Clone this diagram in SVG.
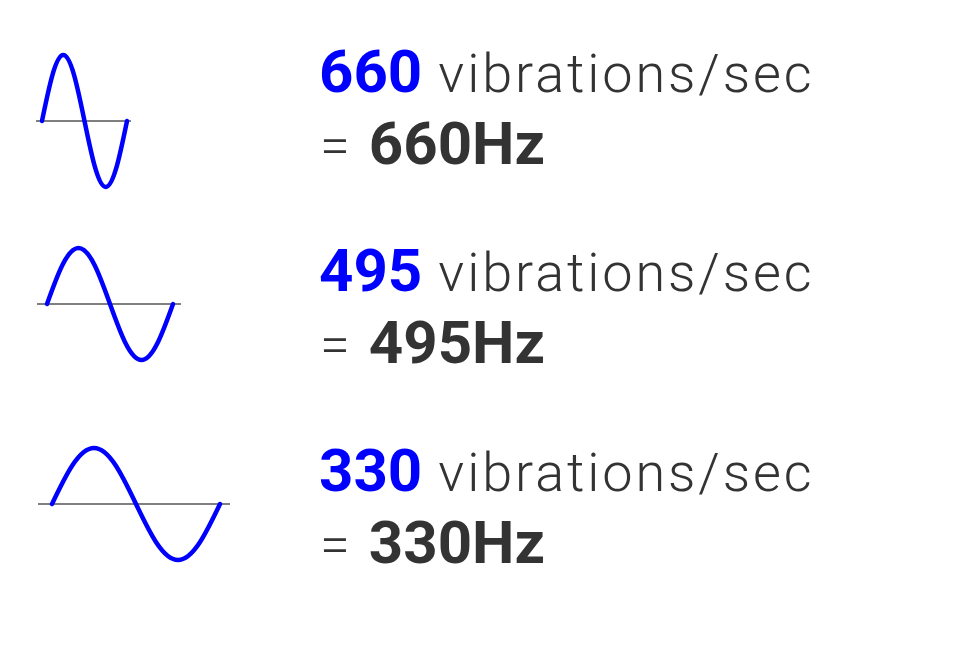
<svg xmlns="http://www.w3.org/2000/svg" width="978" height="645" viewBox="0 0 978 645">
<style>
.axis{stroke:#555;stroke-width:1.5;fill:none}
.wave{stroke:#0000ff;stroke-width:4.5;fill:none;stroke-linecap:round}
.t{font-family:Roboto,"Liberation Sans",sans-serif;fill:#333}
.lt{font-weight:300;font-size:54px;letter-spacing:2.9px}
.b{font-weight:700;font-size:60px}
.blue{fill:#0000ff}
</style>
<rect width="978" height="645" fill="#fff"/>
<g id="wave660">
<line class="axis" x1="36" y1="121" x2="131" y2="121"/>
<path class="wave" d="M42,121 C48.93,87.19 55.56,55 63.25,55 C70.94,55 77.57,87.19 84.5,121 C91.43,154.81 98.06,187 105.75,187 C113.44,187 120.07,154.81 127,121"/>
</g>
<g id="label660">
<text class="t" x="319" y="92"><tspan class="b blue">660</tspan><tspan class="lt"> vibrations/sec</tspan></text>
<text class="t" x="320" y="164"><tspan class="lt">= </tspan><tspan class="b">660Hz</tspan></text>
</g>
<g id="wave495">
<line class="axis" x1="37" y1="304" x2="181" y2="304"/>
<path class="wave" d="M47,304 C57.27,275.31 67.10,248 78.5,248 C89.9,248 99.73,275.31 110,304 C120.27,332.69 130.10,360 141.5,360 C152.9,360 162.73,332.69 173,304"/>
</g>
<g id="label495">
<text class="t" x="319" y="291"><tspan class="b blue">495</tspan><tspan class="lt"> vibrations/sec</tspan></text>
<text class="t" x="320" y="363"><tspan class="lt">= </tspan><tspan class="b">495Hz</tspan></text>
</g>
<g id="wave330">
<line class="axis" x1="38" y1="504" x2="230" y2="504"/>
<path class="wave" d="M52,504 C65.70,475.31 78.80,448 94,448 C109.2,448 122.3,475.31 136,504 C149.7,532.69 162.8,560 178,560 C193.2,560 206.3,532.69 220,504"/>
</g>
<g id="label330">
<text class="t" x="319" y="491"><tspan class="b blue">330</tspan><tspan class="lt"> vibrations/sec</tspan></text>
<text class="t" x="320" y="563"><tspan class="lt">= </tspan><tspan class="b">330Hz</tspan></text>
</g>
<g id="connectors"/>
</svg>
